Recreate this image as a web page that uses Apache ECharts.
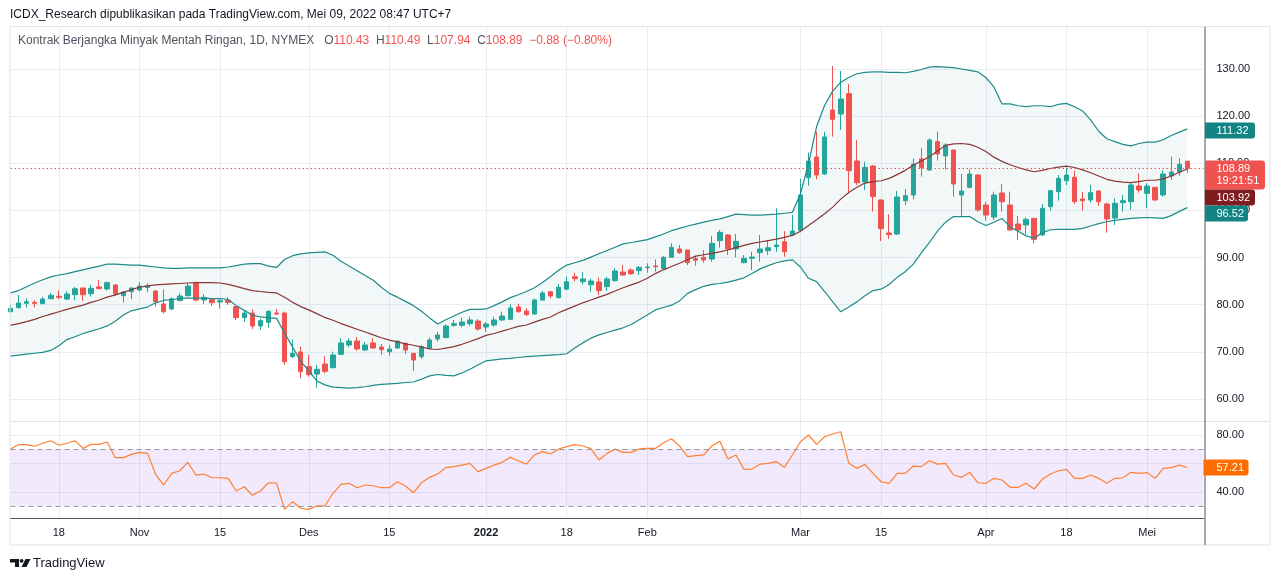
<!DOCTYPE html>
<html>
<head>
<meta charset="utf-8">
<title>Kontrak Berjangka Minyak Mentah Ringan, 1D, NYMEX</title>
<script src="https://cdn.jsdelivr.net/npm/echarts@6/dist/echarts.min.js"></script>
<style>
html, body { margin: 0; padding: 0; background: #fff; }
#chart { width: 1280px; height: 581px; }
</style>
</head>
<body>
<div id="chart"></div>
<script>
// trading days shown on the chart
let dates = [
    '2021-10-08',
    '2021-10-11','2021-10-12','2021-10-13','2021-10-14','2021-10-15',
    '2021-10-18','2021-10-19','2021-10-20','2021-10-21','2021-10-22',
    '2021-10-25','2021-10-26','2021-10-27','2021-10-28','2021-10-29',
    '2021-11-01','2021-11-02','2021-11-03','2021-11-04','2021-11-05',
    '2021-11-08','2021-11-09','2021-11-10','2021-11-11','2021-11-12',
    '2021-11-15','2021-11-16','2021-11-17','2021-11-18','2021-11-19',
    '2021-11-22','2021-11-23','2021-11-24','2021-11-26',
    '2021-11-29','2021-11-30','2021-12-01','2021-12-02','2021-12-03',
    '2021-12-06','2021-12-07','2021-12-08','2021-12-09','2021-12-10',
    '2021-12-13','2021-12-14','2021-12-15','2021-12-16','2021-12-17',
    '2021-12-20','2021-12-21','2021-12-22','2021-12-23',
    '2021-12-27','2021-12-28','2021-12-29','2021-12-30','2021-12-31',
    '2022-01-03','2022-01-04','2022-01-05','2022-01-06','2022-01-07',
    '2022-01-10','2022-01-11','2022-01-12','2022-01-13','2022-01-14',
    '2022-01-18','2022-01-19','2022-01-20','2022-01-21',
    '2022-01-24','2022-01-25','2022-01-26','2022-01-27','2022-01-28',
    '2022-01-31','2022-02-01','2022-02-02','2022-02-03','2022-02-04',
    '2022-02-07','2022-02-08','2022-02-09','2022-02-10','2022-02-11',
    '2022-02-14','2022-02-15','2022-02-16','2022-02-17','2022-02-18',
    '2022-02-22','2022-02-23','2022-02-24','2022-02-25',
    '2022-02-28','2022-03-01','2022-03-02','2022-03-03','2022-03-04',
    '2022-03-07','2022-03-08','2022-03-09','2022-03-10','2022-03-11',
    '2022-03-14','2022-03-15','2022-03-16','2022-03-17','2022-03-18',
    '2022-03-21','2022-03-22','2022-03-23','2022-03-24','2022-03-25',
    '2022-03-28','2022-03-29','2022-03-30','2022-03-31','2022-04-01',
    '2022-04-04','2022-04-05','2022-04-06','2022-04-07','2022-04-08',
    '2022-04-11','2022-04-12','2022-04-13','2022-04-14',
    '2022-04-18','2022-04-19','2022-04-20','2022-04-21','2022-04-22',
    '2022-04-25','2022-04-26','2022-04-27','2022-04-28','2022-04-29',
    '2022-05-02','2022-05-03','2022-05-04','2022-05-05','2022-05-06',
    '2022-05-09'
];
// empty slots on the right of the last bar
let futureSlots = ['2022-05-10', '2022-05-11'];

let opens = [
    78.52,79.37,80.29,80.50,80.22,81.28,81.78,81.21,82.13,83.55,
    82.34,83.76,83.33,84.18,81.92,82.77,83.12,83.62,82.91,80.15,
    79.09,80.86,81.92,84.53,81.00,81.07,80.57,80.93,79.59,77.25,
    78.24,75.48,76.26,78.24,78.24,68.98,69.97,66.86,65.30,67.42,
    66.64,69.47,71.45,72.30,70.39,71.88,71.03,70.04,70.82,71.81,
    69.68,68.98,70.74,72.72,73.01,75.62,75.62,75.98,76.54,75.27,
    75.70,76.76,76.90,79.52,78.67,78.03,81.00,82.77,81.49,83.30,
    85.92,84.89,84.25,84.82,83.83,85.10,86.94,87.36,87.22,87.86,
    88.21,87.64,90.05,91.82,91.60,89.77,90.05,89.69,93.58,94.79,
    91.82,88.92,89.84,91.04,91.46,92.31,93.35,94.79,95.80,106.95,
    111.33,107.73,121.30,120.45,124.77,110.48,106.03,109.42,102.21,95.21,
    95.00,102.07,103.27,110.91,108.57,114.59,111.55,112.82,103.27,104.90,
    107.51,101.15,98.60,103.70,101.15,97.12,96.91,98.32,94.79,100.80,
    103.98,106.31,107.02,102.42,102.21,104.12,101.36,98.39,101.65,101.86,
    105.18,103.62,104.90,103.27,107.30,108.15,110.43
];
let highs = [
    79.94,82.06,81.35,81.00,81.70,82.55,83.05,82.91,83.80,83.60,
    84.18,85.24,84.89,84.39,82.91,83.60,84.82,84.53,83.00,83.26,
    81.57,82.41,84.53,84.89,82.20,81.35,81.14,81.64,79.70,78.67,
    79.02,77.04,78.74,79.09,78.52,72.66,71.10,69.33,67.21,69.12,
    70.04,72.94,72.94,73.15,72.09,72.94,71.66,71.45,72.51,72.02,
    69.70,71.45,73.01,74.28,75.84,76.76,77.25,77.46,76.97,76.33,
    77.46,78.52,80.08,80.22,79.23,81.28,82.91,82.80,84.39,85.95,
    86.80,86.94,85.52,85.80,85.95,87.72,88.42,87.72,88.21,88.78,
    89.62,90.33,93.02,92.66,91.65,90.40,91.60,94.57,95.85,95.00,
    95.00,90.54,91.25,94.79,93.73,100.44,95.60,99.03,106.67,112.32,
    116.71,116.71,130.64,129.58,126.82,114.94,110.34,109.64,102.30,99.17,
    104.12,104.54,111.05,113.24,115.29,116.71,114.23,112.90,107.73,108.72,
    107.73,101.82,103.98,105.60,103.98,98.82,98.53,98.40,101.36,104.33,
    107.51,109.14,108.43,103.91,105.39,104.20,101.65,102.56,103.27,105.75,
    107.87,105.75,104.95,108.57,111.40,111.05,110.49
];
let lows = [
    78.31,79.20,79.44,79.44,80.15,81.14,81.14,81.00,80.90,80.79,
    81.71,83.30,82.98,81.92,80.43,81.21,82.84,82.63,79.59,78.17,
    78.87,80.86,81.71,80.65,80.15,79.73,79.16,79.94,76.76,76.33,
    74.85,74.64,75.13,77.82,67.21,68.63,64.38,64.73,62.40,65.44,
    66.50,69.33,70.96,70.25,70.18,70.60,69.33,69.19,70.67,69.54,
    65.94,68.48,70.53,72.16,72.87,75.34,75.20,75.48,74.50,74.21,
    75.34,76.54,76.76,78.31,77.60,77.90,80.90,81.35,81.35,83.12,
    84.96,84.32,82.77,82.06,82.91,84.89,86.16,86.30,86.30,86.80,
    87.00,87.50,90.00,90.76,88.42,88.28,88.92,89.13,92.10,90.54,
    90.05,88.78,87.36,89.13,90.54,91.25,90.19,94.65,95.35,105.25,
    106.60,107.51,115.65,117.06,103.77,105.39,104.33,99.74,93.51,93.94,
    94.79,101.15,102.35,107.16,108.36,110.55,108.72,102.92,98.68,104.69,
    99.74,97.83,97.97,99.74,95.71,93.73,95.00,93.02,94.57,99.95,
    102.07,105.39,101.36,99.95,101.65,100.94,95.28,96.91,99.74,100.09,
    103.77,100.44,102.07,102.92,106.45,107.37,107.94
];
let closes = [
    79.23,80.36,80.65,80.29,81.21,81.99,81.57,82.27,83.40,82.13,
    83.47,83.40,84.68,82.34,82.70,83.55,83.97,83.97,80.65,78.52,
    81.21,81.85,83.97,80.99,81.56,80.43,80.86,80.50,77.25,78.24,
    75.48,76.62,78.60,78.03,67.92,69.68,65.80,65.16,66.29,65.87,
    69.33,71.88,72.30,70.60,71.45,70.82,70.46,70.60,72.23,70.39,
    68.27,71.10,72.51,73.57,75.48,75.98,76.33,76.76,74.85,75.91,
    76.76,77.60,79.30,78.52,77.89,81.00,82.48,81.85,83.69,84.89,
    85.52,85.45,85.03,82.98,85.45,87.15,86.30,86.58,87.93,88.00,
    88.07,90.05,92.17,91.04,88.92,89.41,89.48,93.02,95.35,91.82,
    93.44,89.84,90.12,91.82,92.10,92.67,91.25,95.63,103.27,110.48,
    107.51,115.58,119.32,123.64,108.43,105.89,109.14,102.92,96.13,94.86,
    102.85,103.13,109.85,109.07,114.94,111.97,113.88,105.60,104.12,107.73,
    100.09,99.03,103.27,101.86,95.85,95.85,98.11,93.87,100.44,104.19,
    106.81,107.51,101.86,102.07,103.77,101.86,98.18,101.50,102.07,105.39,
    104.33,105.18,102.21,107.73,108.15,109.77,108.89
];

// Bollinger Bands as drawn on the chart
let bbUpper = [
    82.5,83.0,83.8,84.6,85.3,85.9,86.3,86.6,87.0,87.4,
    87.8,88.2,88.6,88.6,88.5,88.4,88.4,88.2,88.0,87.8,
    87.7,87.7,87.8,87.8,87.8,87.8,87.8,88.0,88.3,88.6,
    88.7,88.7,88.2,87.9,89.6,90.4,90.8,91.0,91.1,91.2,
    90.5,89.2,88.2,87.2,86.2,85.2,83.7,82.4,81.6,80.7,
    79.8,78.6,77.2,75.9,76.8,77.6,78.4,79.0,79.0,79.1,
    79.8,80.6,81.5,82.1,82.8,83.6,84.7,86.0,87.3,88.4,
    88.9,89.4,90.1,90.8,91.5,92.2,92.9,93.2,93.5,93.8,
    94.4,95.0,95.7,96.2,96.7,97.1,97.5,97.9,98.2,98.7,
    99.2,99.1,99.0,99.0,99.1,99.2,99.4,99.6,103.5,110.0,
    117.8,122.3,125.3,127.2,128.2,129.0,129.3,129.4,129.4,129.3,
    129.3,129.2,129.5,129.9,130.4,130.5,130.4,130.3,130.0,129.7,
    129.4,128.2,126.2,122.6,122.6,122.2,122.0,122.2,122.2,122.0,
    122.5,122.7,122.0,121.1,119.2,116.8,115.2,114.6,114.0,113.7,
    114.2,114.5,114.5,115.0,115.9,116.6,117.3
];
let bbBasis = [
    75.6,76.0,76.4,76.9,77.5,78.0,78.5,79.0,79.5,79.9,
    80.5,81.0,81.6,82.1,82.6,83.2,83.7,84.0,84.2,84.3,
    84.4,84.5,84.6,84.7,84.7,84.7,84.6,84.3,83.9,83.4,
    83.0,82.8,82.6,82.5,81.6,80.5,79.6,78.9,78.1,77.3,
    76.7,76.0,75.4,74.8,74.2,73.6,73.0,72.5,72.1,71.7,
    71.4,71.0,70.6,70.5,70.8,71.1,71.6,72.2,72.8,73.5,
    73.9,74.4,74.9,75.4,75.7,76.3,76.9,77.4,78.3,79.0,
    79.7,80.4,81.0,81.6,82.2,82.9,83.6,84.2,84.8,85.6,
    86.6,87.4,88.1,88.8,89.6,90.3,90.6,90.9,91.2,91.6,
    92.1,92.6,93.0,93.3,93.6,93.9,94.3,94.7,95.6,96.8,
    98.0,99.3,100.7,102.4,103.8,104.9,105.8,106.1,106.3,106.8,
    107.6,108.5,109.6,110.5,111.4,112.6,113.8,114.1,114.2,114.0,
    113.4,112.5,111.3,110.4,109.7,109.1,108.6,108.2,108.5,108.9,
    109.2,109.4,109.1,108.6,108.0,107.3,106.6,106.2,106.0,105.9,
    106.1,106.4,106.4,106.7,107.3,108.1,108.8
];
let bbLower = [
    69.1,69.3,69.5,69.7,69.9,70.3,71.3,72.6,73.2,73.9,
    74.4,74.9,75.5,76.5,77.8,78.7,79.1,79.5,80.4,80.9,
    81.1,81.3,81.4,81.4,81.4,81.3,81.3,81.1,79.8,78.8,
    77.8,77.4,77.2,77.1,74.0,71.0,68.0,66.0,63.8,63.0,
    62.5,62.4,62.3,62.4,62.6,62.9,63.1,63.2,63.3,63.5,
    63.6,64.2,64.9,65.2,65.0,64.9,65.5,66.3,67.2,68.1,
    68.3,68.5,68.6,68.8,69.0,69.1,69.2,69.3,69.4,69.6,
    70.8,71.9,72.9,73.6,74.1,74.6,75.1,75.8,76.8,77.8,
    78.9,79.4,79.9,80.8,82.4,83.2,83.9,84.3,84.5,84.8,
    85.2,85.7,86.6,87.6,88.3,88.9,89.3,89.5,88.0,85.6,
    84.9,82.8,80.6,78.5,79.5,80.6,81.9,83.0,83.3,84.3,
    85.8,87.0,88.6,91.0,93.2,95.6,97.5,98.7,98.7,98.7,
    97.6,96.8,97.5,98.3,96.5,95.6,94.6,94.1,95.3,95.9,
    96.0,96.0,96.0,96.2,96.7,97.2,97.6,97.9,98.1,98.3,
    98.4,98.5,98.4,98.3,98.9,99.8,100.6
];
// RSI 14 as drawn in the lower pane
let rsi = [
    70.2,73.2,73.2,72.1,74.2,76.0,72.8,74.2,76.0,70.6,
    73.4,73.4,75.1,64.1,64.1,66.4,67.8,67.1,52.4,44.9,
    53.1,54.9,60.8,51.9,52.6,50.0,50.0,49.6,40.7,43.7,
    37.7,40.7,46.5,46.3,27.8,33.2,28.6,27.8,30.2,30.2,
    39.1,45.4,46.1,43.0,44.9,44.4,43.0,43.0,47.2,44.2,
    39.5,46.5,50.3,52.6,57.1,57.8,58.9,60.1,54.3,56.6,
    58.9,60.8,64.3,61.9,59.6,66.0,68.3,66.7,70.2,71.8,
    73.2,72.3,70.4,62.5,67.1,70.1,67.8,67.8,70.2,70.6,
    70.6,74.6,77.4,72.3,64.8,65.5,66.0,72.3,75.6,63.2,
    66.0,55.9,56.1,59.6,60.1,61.3,57.3,66.0,75.3,80.0,
    73.4,78.8,80.7,82.3,60.1,56.6,59.4,53.1,47.2,46.1,
    53.1,53.1,58.2,57.8,61.9,59.6,60.1,51.9,50.3,53.8,
    46.5,46.1,49.6,48.4,43.3,43.3,46.1,42.1,48.9,52.6,
    54.9,55.9,49.6,49.6,51.9,49.6,46.1,49.6,50.0,53.8,
    53.1,53.6,49.6,56.6,57.1,58.9,57.21
];
let rsiBands = [30, 70];

// axis ticks
let priceTicks = [60, 70, 80, 90, 100, 110, 120, 130];
let rsiGridTicks = [40, 60, 80];
let rsiLabelTicks = [40, 80];
let tickDates = ['2021-10-18','2021-11-01','2021-11-15','2021-12-01','2021-12-15','2022-01-03',
                 '2022-01-18','2022-02-01','2022-03-01','2022-03-15','2022-04-01','2022-04-18','2022-05-02'];
let tickTexts = ['18','Nov','15','Des','15','2022','18','Feb','Mar','15','Apr','18','Mei'];

// right axis badges as shown on the snapshot
let bandBadges = ['111.32', '103.92', '96.52'];
let countdownText = '19:21:51';

let chartInfo = {
    title: 'ICDX_Research dipublikasikan pada TradingView.com, Mei 09, 2022 08:47 UTC+7',
    symbol: 'Kontrak Berjangka Minyak Mentah Ringan, 1D, NYMEX'
};

const FONT = '"Liberation Sans", Arial, sans-serif';
const GRID_COLOR = '#e8edf2';
const UP = '#26a69a', DOWN = '#ef5350';
const BAND = '#1f8a8a', BASIS = '#8c3535';

let cats = dates.concat(futureSlots);
let isTick = (idx, val) => tickDates.indexOf(val) > -1;
let tickLabel = (val) => {
    let k = tickDates.indexOf(val);
    if (k < 0) return '';
    return /^\d{4}$/.test(tickTexts[k]) ? '{b|' + tickTexts[k] + '}' : tickTexts[k];
};

let candles = dates.map((d, i) => [opens[i], closes[i], lows[i], highs[i]]);
let bandWidthArr = bbUpper.map((u, i) => +(u - bbLower[i]).toFixed(2));

let last = closes.length - 1;
let lastClose = closes[last];
let change = closes[last] - closes[last - 1];
let pct = change / closes[last - 1] * 100;
let sign = (v) => (v < 0 ? '\u2212' : '+');

let myChart = echarts.init(document.getElementById('chart'));

let option = {
    animation: false,
    backgroundColor: '#ffffff',
    textStyle: { fontFamily: FONT },
    grid: [
        { left: 10.5, top: 27, width: 1193, height: 394, containLabel: false, outerBoundsMode: 'none' },
        { left: 10.5, top: 421, width: 1193, height: 97, containLabel: false, outerBoundsMode: 'none' }
    ],
    xAxis: [
        {
            gridIndex: 0, type: 'category', data: cats, boundaryGap: false,
            axisLine: { show: false },
            axisTick: { show: false },
            axisLabel: { show: false },
            splitLine: { show: true, interval: isTick, lineStyle: { color: GRID_COLOR, width: 1 } }
        },
        {
            gridIndex: 1, type: 'category', data: cats, boundaryGap: false,
            axisLine: { show: true, lineStyle: { color: '#50535e', width: 1 } },
            axisTick: { show: false },
            axisLabel: {
                show: true, interval: isTick, formatter: tickLabel, margin: 9,
                color: '#131722', fontSize: 11, fontFamily: FONT,
                rich: { b: { fontWeight: 'bold', fontSize: 11, color: '#131722', fontFamily: FONT } }
            },
            splitLine: { show: true, interval: isTick, lineStyle: { color: GRID_COLOR, width: 1 } }
        }
    ],
    yAxis: [
        {
            gridIndex: 0, type: 'value', position: 'right', min: 55.33, max: 138.91,
            axisLine: { show: false },
            axisTick: { show: false, customValues: priceTicks },
            axisLabel: {
                customValues: priceTicks, formatter: (v) => v.toFixed(2), margin: 13,
                color: '#131722', fontSize: 11, fontFamily: FONT
            },
            splitLine: { show: true, lineStyle: { color: GRID_COLOR, width: 1 } }
        },
        {
            gridIndex: 1, type: 'value', position: 'right', min: 21.75, max: 89.83,
            axisLine: { show: false },
            axisTick: { show: false, customValues: rsiGridTicks },
            axisLabel: {
                customValues: rsiLabelTicks, formatter: (v) => v.toFixed(2), margin: 13,
                color: '#131722', fontSize: 11, fontFamily: FONT
            },
            splitLine: { show: true, lineStyle: { color: GRID_COLOR, width: 1 } }
        }
    ],
    series: [
        {
            name: 'BB base', type: 'line', xAxisIndex: 0, yAxisIndex: 0,
            data: bbLower, stack: 'bb', symbol: 'none', silent: true, z: 1,
            lineStyle: { width: 0, opacity: 0 }
        },
        {
            name: 'BB fill', type: 'line', xAxisIndex: 0, yAxisIndex: 0,
            data: bandWidthArr, stack: 'bb', symbol: 'none', silent: true, z: 1,
            lineStyle: { width: 0, opacity: 0 },
            areaStyle: { color: 'rgba(31,138,138,0.06)', opacity: 1 }
        },
        {
            name: 'CL1!', type: 'candlestick', xAxisIndex: 0, yAxisIndex: 0,
            data: candles, barWidth: 5, z: 3,
            itemStyle: { color: UP, color0: DOWN, borderColor: UP, borderColor0: DOWN, borderWidth: 1 },
            markLine: {
                silent: true, symbol: 'none', animation: false,
                label: { show: false },
                lineStyle: { color: DOWN, type: [1.5, 2.5], width: 1 },
                data: [{ yAxis: lastClose }]
            }
        },
        {
            name: 'Upper', type: 'line', xAxisIndex: 0, yAxisIndex: 0, data: bbUpper,
            symbol: 'none', silent: true, z: 4, lineStyle: { color: BAND, width: 1.2 }
        },
        {
            name: 'Lower', type: 'line', xAxisIndex: 0, yAxisIndex: 0, data: bbLower,
            symbol: 'none', silent: true, z: 4, lineStyle: { color: BAND, width: 1.2 }
        },
        {
            name: 'Basis', type: 'line', xAxisIndex: 0, yAxisIndex: 0, data: bbBasis,
            symbol: 'none', silent: true, z: 4, lineStyle: { color: BASIS, width: 1.2 }
        },
        {
            name: 'RSI', type: 'line', xAxisIndex: 1, yAxisIndex: 1, data: rsi,
            symbol: 'none', silent: true, z: 4, lineStyle: { color: '#ff8030', width: 1.2 },
            markArea: {
                silent: true, label: { show: false },
                itemStyle: { color: 'rgba(149,76,233,0.12)' },
                data: [[{ yAxis: rsiBands[0] }, { yAxis: rsiBands[1] }]]
            },
            markLine: {
                silent: true, symbol: 'none', animation: false,
                label: { show: false },
                lineStyle: { color: '#9598a1', type: [5, 4], width: 1 },
                data: rsiBands.map((v) => ({ yAxis: v }))
            }
        }
    ]
};
myChart.setOption(option);

// frame, header, badges ------------------------------------------------
let yLast = myChart.convertToPixel({ yAxisIndex: 0 }, lastClose);
let yRsi = myChart.convertToPixel({ yAxisIndex: 1 }, rsi[last]);

let badge = (x, y, w, h, fill, lines) => {
    let kids = [{
        type: 'rect', shape: { x: x, y: y, width: w, height: h, r: [0, 3, 3, 0] },
        style: { fill: fill }, z: 50
    }];
    lines.forEach((t, i) => {
        kids.push({
            type: 'text', x: 1216.5, y: y + 8 + i * 12.5, z: 51,
            style: { text: t, fill: '#ffffff', font: '11px ' + FONT, verticalAlign: 'middle' }
        });
    });
    return kids;
};

let graphics = [
    { type: 'rect', shape: { x: 10, y: 26.5, width: 1260, height: 518.5 }, style: { fill: 'none', stroke: '#e0e3eb', lineWidth: 1 }, z: 40 },
    { type: 'line', shape: { x1: 10, y1: 421.5, x2: 1270, y2: 421.5 }, style: { stroke: '#e0e3eb', lineWidth: 1 }, z: 40 },
    { type: 'line', shape: { x1: 1205, y1: 27, x2: 1205, y2: 545 }, style: { stroke: '#50535e', lineWidth: 1 }, z: 41 },
    {
        type: 'text', x: 10, y: 15, z: 60,
        style: { text: chartInfo.title, fill: '#131722', font: '12px ' + FONT, verticalAlign: 'middle' }
    },
    {
        type: 'text', x: 18, y: 41, z: 60,
        style: {
            text: '{n|' + chartInfo.symbol + '}   {k|O}{v|' + opens[last].toFixed(2) + '}  {k|H}{v|' + highs[last].toFixed(2) +
                  '}  {k|L}{v|' + lows[last].toFixed(2) + '}  {k|C}{v|' + closes[last].toFixed(2) + '}  {v|' +
                  sign(change) + Math.abs(change).toFixed(2) + ' (' + sign(pct) + Math.abs(pct).toFixed(2) + '%)}',
            verticalAlign: 'middle',
            rich: {
                n: { fill: '#50535e', font: '12px ' + FONT },
                k: { fill: '#50535e', font: '12px ' + FONT },
                v: { fill: DOWN, font: '12px ' + FONT }
            }
        }
    },
    // TradingView mark
    { type: 'polygon', shape: { points: [[10, 559], [19, 559], [19, 567], [15, 567], [15, 562.5], [10, 562.5]] }, style: { fill: '#131722' } },
    { type: 'circle', shape: { cx: 21.6, cy: 560.8, r: 1.9 }, style: { fill: '#131722' } },
    { type: 'polygon', shape: { points: [[25.5, 559], [30.5, 559], [26.5, 567], [21.5, 567]] }, style: { fill: '#131722' } },
    {
        type: 'text', x: 33, y: 563.5,
        style: { text: 'TradingView', fill: '#131722', font: '13px ' + FONT, verticalAlign: 'middle' }
    }
];
graphics = graphics
    .concat(badge(1205, 122.5, 50, 16, '#138484', [bandBadges[0]]))
    .concat(badge(1205, yLast - 8, 60, 29, DOWN, [lastClose.toFixed(2), countdownText]))
    .concat(badge(1205, 189.5, 50, 16, '#801c1f', [bandBadges[1]]))
    .concat(badge(1205, 205.5, 43, 16, '#138484', [bandBadges[2]]))
    .concat(badge(1203.5, yRsi - 8, 45, 16, '#ff6d00', [rsi[last].toFixed(2)]));

myChart.setOption({ graphic: graphics });
</script>
</body>
</html>
